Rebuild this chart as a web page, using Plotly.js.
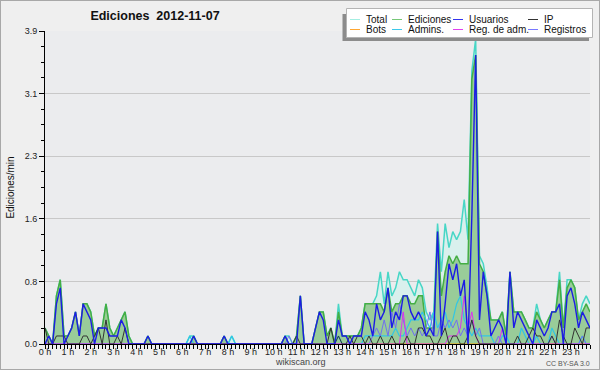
<!DOCTYPE html>
<html><head><meta charset="utf-8">
<script src="https://cdn.plot.ly/plotly-3.0.1.min.js"></script>
<style>
html,body{margin:0;padding:0;background:#efefef}
#wrap{position:relative;width:600px;height:370px}
#chart{width:600px;height:370px}
#frame{position:absolute;left:0;top:0;width:600px;height:370px;box-sizing:border-box;border:1px solid #a8a8a8;pointer-events:none}
</style>
</head><body><div id="wrap"><div id="chart"></div><div id="frame"></div></div>
<script>
// Edits per minute, one value every 10 minutes (6 per hour, 0 h .. 23 h 50)
const total = [
 0.2,0.1,0,0.6,0.8,0.1,
 0.1,0.2,0.4,0.1,0.5,0.5,
 0.4,0.1,0.2,0.2,0.5,0.2,
 0.1,0.2,0.3,0.4,0.1,0,
 0,0,0,0.1,0,0,
 0,0,0,0,0,0,
 0,0,0.1,0.1,0,0,
 0,0,0,0,0,0.1,
 0,0.1,0,0,0,0,
 0,0,0,0,0,0,
 0,0,0,0.1,0.1,0,
 0.1,0.6,0,0,0,0.2,
 0.4,0.4,0.1,0.2,0,0.5,
 0.1,0.1,0.1,0.1,0.1,0.2,
 0.5,0.5,0.5,0.6,0.9,0.5,
 0.9,0.6,0.7,0.9,0.8,0.8,
 0.7,0.6,0.8,0.7,0.4,0.3,
 0.4,1.5,0.9,1.5,1.2,1.4,
 1.3,1.4,1.8,1.3,3.4,3.8,
 1.1,1.0,0.7,0.3,0.3,0.3,
 0.4,0.1,0.9,0.4,0.4,0.4,
 0.3,0.2,0.2,0.5,0.3,0.2,
 0.3,0.4,0.4,0.9,0.2,0.8,
 0.8,0.7,0.3,0.5,0.6,0.5];
const ediciones = [
 0.2,0.1,0,0.6,0.8,0.1,
 0.1,0.2,0.4,0.1,0.5,0.5,
 0.4,0.1,0.2,0.2,0.5,0.2,
 0.1,0.2,0.3,0.4,0.1,0,
 0,0,0,0.1,0,0,
 0,0,0,0,0,0,
 0,0,0,0.1,0,0,
 0,0,0,0,0,0.1,
 0,0,0,0,0,0,
 0,0,0,0,0,0,
 0,0,0,0.1,0,0,
 0.1,0.6,0,0,0,0.2,
 0.4,0.4,0.1,0.2,0,0.4,
 0.1,0.1,0.1,0.1,0.1,0.2,
 0.5,0.5,0.5,0.5,0.5,0.4,
 0.7,0.4,0.5,0.5,0.6,0.6,
 0.5,0.5,0.6,0.6,0.2,0.2,
 0.2,1.4,0.6,0.9,1.1,1.0,
 1.1,1.0,1.0,1.0,3.3,3.6,
 1.0,0.9,0.6,0.3,0.3,0.3,
 0.4,0.1,0.9,0.4,0.4,0.4,
 0.3,0.2,0.2,0.4,0.3,0.2,
 0.3,0.4,0.4,0.8,0.2,0.7,
 0.8,0.7,0.3,0.4,0.5,0.4];
const usuarios = [
 0,0.1,0,0.5,0.7,0,
 0.1,0.2,0.4,0.1,0.5,0.4,
 0.3,0,0.2,0.2,0.2,0.1,
 0.1,0.1,0.3,0.2,0,0,
 0,0,0,0.1,0,0,
 0,0,0,0,0,0,
 0,0,0,0.1,0,0,
 0,0,0,0,0,0.1,
 0,0,0,0,0,0,
 0,0,0,0,0,0,
 0,0,0,0.1,0,0,
 0,0.6,0,0,0,0.2,
 0.4,0.3,0,0,0,0.3,
 0.1,0.1,0,0.1,0.1,0.1,
 0.4,0.3,0.1,0.5,0.3,0.4,
 0.7,0.2,0.4,0.3,0.6,0.6,
 0.4,0.3,0.4,0.3,0.1,0.2,
 0.1,1.4,0.1,0.5,1.0,0.8,
 1.0,0.6,0.8,0,1.6,3.6,
 0.3,0.9,0.6,0.1,0.2,0.3,
 0.2,0,0.9,0.2,0.4,0.3,
 0.2,0.1,0,0.3,0.2,0.1,
 0.2,0.4,0.4,0.5,0,0.6,
 0.7,0.5,0.2,0.4,0.3,0.2];
const ip = [
 0.2,0,0,0.1,0.1,0.1,
 0,0,0,0,0.1,0.1,
 0,0.1,0.2,0,0.3,0,
 0,0.1,0,0.2,0,0,
 0,0,0,0,0,0,
 0,0,0,0,0,0,
 0,0,0,0,0,0,
 0,0,0,0,0,0,
 0,0,0,0,0,0,
 0,0,0,0,0,0,
 0,0,0,0,0,0,
 0.1,0,0,0,0,0,
 0,0,0,0.2,0,0.1,
 0,0,0.1,0,0.1,0.1,
 0,0.1,0,0,0.1,0,
 0,0.1,0,0,0,0.1,
 0,0,0.2,0.2,0.1,0.1,
 0,0,0.1,0.2,0,0.1,
 0.1,0,0,0.1,0.3,0.1,
 0,0,0,0,0,0,
 0,0,0,0,0.1,0,
 0,0.1,0.2,0.1,0.1,0,
 0,0.1,0,0.3,0.1,0,
 0,0.2,0.1,0,0.2,0.2];
const bots = new Array(144).fill(0); // no bot edits that day
const admins = [
 0,0,0,0,0,0, 0,0,0,0,0,0, 0,0,0,0,0,0, 0,0,0,0,0,0,
 0,0,0,0,0,0, 0,0,0,0,0,0,
 0,0,0.1,0,0,0,
 0,0,0,0,0,0,
 0,0.1,0,0,0,0,
 0,0,0,0,0,0, 0,0,0,0,0,0, 0,0,0,0,0,0,
 0,0,0,0,0,0.1,
 0,0,0,0,0,0,
 0.1,0.1,0.1,0.1,0.1,0.1,
 0.1,0.1,0.2,0.1,0.1,0.2,
 0.3,0.3,0.3,0.4,0.3,0.2,
 0.4,0.2,0.3,0.4,0.2,0.3,
 0.5,0.6,0.3,0.2,0.1,0.2,
 0.1,0.1,0.1,0.1,0,0,
 0.1,0.1,0,0,0,0.2,
 0.1,0,0,0.1,0,0,
 0,0.2,0.1,0,0,0,
 0,0,0,0.1,0,0];
const regAdm = [
 0,0,0,0,0,0, 0,0,0,0,0,0, 0,0,0,0,0,0, 0,0,0,0,0,0,
 0,0,0,0,0,0, 0,0,0,0,0,0, 0,0,0,0,0,0, 0,0,0,0,0,0,
 0,0,0,0,0,0, 0,0,0,0,0,0, 0,0,0,0,0,0, 0,0,0,0,0,0,
 0,0,0,0,0,0, 0,0,0,0,0,0, 0,0,0,0,0,0,
 0,0,0,0,0.4,0,
 0,0,0,0,0,0,
 0,0,0,0,0.1,0.1,
 0.1,0.2,0.6,0.2,0.4,0.1,
 0,0,0,0,0,0,
 0.2,0,0,0,0,0,
 0,0,0,0,0,0, 0,0,0,0,0,0, 0,0,0,0,0,0];
const registros = [
 0,0,0,0,0,0, 0,0,0,0,0,0, 0,0,0,0,0,0, 0,0,0,0,0,0,
 0,0,0,0,0,0, 0,0,0,0,0,0, 0,0,0,0,0,0, 0,0,0,0,0,0,
 0,0,0,0,0,0, 0,0,0,0,0,0,
 0,0,0,0,0.1,0,
 0,0,0,0,0,0, 0,0,0,0,0,0, 0,0,0,0,0,0,
 0,0,0.1,0.2,0.1,0.3,
 0.1,0.4,0.2,0.5,0.3,0.1,
 0.2,0.1,0.2,0.1,0.2,0.4,
 0.1,0.1,0.3,0.2,0.3,0.2,
 0.3,0.1,0.2,0.1,0.3,0.1,
 0.2,0,0,0,0,0.1,
 0,0,0,0,0,0, 0,0,0,0,0,0,
 0,0.1,0,0,0,0,
 0,0,0,0.1,0,0];

const hourTicks = [0,1,2,3,4,5,6,7,8,9,10,11,12,13,14,15,16,17,18,19,20,21,22,23];
const hourLabels = ['0 h','1 h','2 h','3 h','4 h','5 h','6 h','7 h','8 h','9 h','10 h','11 h',
  '12 h','13 h','14 h','15 h','16 h','17 h','18 h','19 h','20 h','21 h','22 h','23 h'];
const yTickVals = [0, 0.78, 1.56, 2.34, 3.12, 3.9];
const yTickText = ['0.0','0.8','1.6','2.3','3.1','3.9'];
const seriesNames = ['Total','Ediciones','Usuarios','IP','Bots','Admins.','Reg. de adm.','Registros'];
const legendColors = ['#a4eee2','#77c877','#3434ee','#333333','#ffa733','#3cc8ea','#e040ee','#7878ff'];

const times = total.map((_, i) => i / 6);
const FONT = 'Liberation Sans, Arial, sans-serif';

function line(y, name, color, width, fill, fillcolor) {
  const t = {x: times, y: y, name: name, type: 'scatter', mode: 'lines',
    line: {color: color, width: width}, hoverinfo: 'skip', showlegend: false};
  if (fill) { t.fill = 'tozeroy'; t.fillcolor = fillcolor; }
  return t;
}
const traces = [
  line(total, seriesNames[0], '#48d6c6', 1.5, true, '#d9f0ed'),
  line(ediciones, seriesNames[1], '#44ae44', 1.5, true, '#99cc99'),
  line(bots, seriesNames[4], '#ffa500', 1),
  line(admins, seriesNames[5], '#30c6e6', 1.2),
  line(registros, seriesNames[7], '#7070f0', 1),
  line(regAdm, seriesNames[6], '#dd33ee', 1),
  line(ip, seriesNames[3], '#333333', 1),
  line(usuarios, seriesNames[2], '#1c1ce6', 1.4)
];

// plot area: x 45..590 px, y 31..344 px
const L = 45, T = 31, W = 545, H = 313;
const px = v => (v - L) / W;
const py = v => (T + H - v) / H;

const shapes = [
  {type:'rect', xref:'paper', yref:'paper', x0:px(342.5), x1:px(589), y0:py(41), y1:py(14),
   fillcolor:'#8c8c8c', line:{width:0}, layer:'above'},
  {type:'rect', xref:'paper', yref:'paper', x0:px(346.5), x1:px(592.5), y0:py(37.5), y1:py(8.5),
   fillcolor:'#ffffff', line:{color:'#b4b4b4', width:1}, layer:'above'}
];
const annotations = [];
const colX = [350, 392, 453, 528];
const rowY = [19.5, 29.5];
seriesNames.forEach((n, k) => {
  const c = k % 4, r = Math.floor(k / 4);
  shapes.push({type:'line', xref:'paper', yref:'paper', x0:px(colX[c]), x1:px(colX[c] + 10),
    y0:py(rowY[r]), y1:py(rowY[r]), line:{color:legendColors[k], width:1}, layer:'above'});
  annotations.push({xref:'paper', yref:'paper', x:px(colX[c] + 15), y:py(rowY[r]),
    xanchor:'left', yanchor:'middle', showarrow:false, text:n,
    font:{family:FONT, size:10, color:'#111'}, borderpad:0});
});
annotations.push({xref:'paper', yref:'paper', x:px(300), y:py(362), xanchor:'center', yanchor:'middle',
  showarrow:false, text:'wikiscan.org', font:{family:FONT, size:9, color:'#444'}, borderpad:0});
annotations.push({xref:'paper', yref:'paper', x:px(591), y:py(363), xanchor:'right', yanchor:'middle',
  showarrow:false, text:'CC BY-SA 3.0', font:{family:FONT, size:7, color:'#555'}, borderpad:0});

const layout = {
  width: 600, height: 370,
  margin: {l: L, r: 600 - L - W, t: T, b: 370 - T - H, pad: 0},
  paper_bgcolor: '#efefef', plot_bgcolor: '#ebecee',
  font: {family: FONT, size: 9, color: '#222'},
  title: {text: 'Ediciones\u00a0\u00a02012-11-07', x: 155 / 600, xanchor: 'center',
    y: 1 - 16 / 370, yanchor: 'middle', font: {family: FONT, size: 12.5, weight: 'bold', color: '#111'}},
  xaxis: {range: [0, 143 / 6], tickmode: 'array', tickvals: hourTicks, ticktext: hourLabels,
    showgrid: false, zeroline: false, showline: true, linecolor: '#000', linewidth: 1,
    ticks: 'outside', ticklen: 4, tickcolor: '#000', tickwidth: 1, ticklabelstandoff: -5,
    tickfont: {family: FONT, size: 9, color: '#222'},
    minor: {tick0: 0, dtick: 1 / 6, ticks: 'outside', ticklen: 4, tickcolor: '#000', showgrid: false},
    fixedrange: true},
  yaxis: {range: [0, 3.9], tickmode: 'array', tickvals: yTickVals, ticktext: yTickText,
    showgrid: true, gridcolor: '#c8c8c8', gridwidth: 1, zeroline: false,
    showline: true, linecolor: '#000', linewidth: 1,
    ticks: 'outside', ticklen: 5, tickcolor: '#000',
    tickfont: {family: FONT, size: 9, color: '#222'},
    minor: {tick0: 0, dtick: 0.195, ticks: 'outside', ticklen: 3, tickcolor: '#000', showgrid: false},
    title: {text: 'Ediciones/min', standoff: 8, font: {family: FONT, size: 10, color: '#111'}},
    fixedrange: true},
  showlegend: false,
  shapes: shapes,
  annotations: annotations
};
Plotly.newPlot('chart', traces, layout, {staticPlot: true, displayModeBar: false});
</script></body></html>
